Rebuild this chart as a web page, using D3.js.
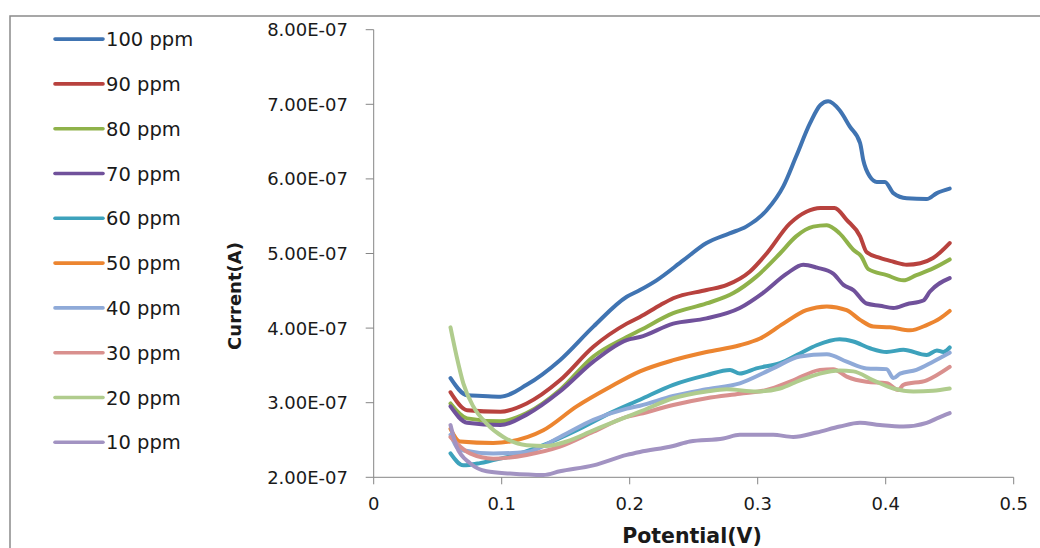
<html>
  <head>
    <script src="https://d3js.org/d3.v7.min.js"></script>
    <style>
      body{ margin: 0; background: #fff; }
      text{ font-family: "DejaVu Sans", sans-serif; fill: #1a1a1a; }
    </style>
  </head>
  <body>
    <svg width="1040" height="548"></svg>
    <script>
    // readings, current in units of 1E-07 A
    var names = ["100 ppm", "90 ppm", "80 ppm", "70 ppm", "60 ppm", "50 ppm", "40 ppm", "30 ppm", "20 ppm", "10 ppm"];
    var colors = ["#4074B2", "#B8423E", "#8FB24A", "#70519B", "#3DA2BC", "#EC8530", "#8FAAD8", "#D9908E", "#B0CC8D", "#A293C2"];
    var xTicks = [0, 0.1, 0.2, 0.3, 0.4, 0.5];
    var xTickLabels = ["0", "0.1", "0.2", "0.3", "0.4", "0.5"];
    var yTicks = [2, 3, 4, 5, 6, 7, 8];
    var yTickLabels = ["2.00E-07", "3.00E-07", "4.00E-07", "5.00E-07", "6.00E-07", "7.00E-07", "8.00E-07"];

    var s100 = [[0.06,3.33],[0.073,3.10],[0.085,3.09],[0.099,3.08],[0.1195,3.24],[0.1455,3.57],[0.1716,4.02],[0.1977,4.42],[0.208,4.51],[0.221,4.64],[0.242,4.91],[0.260,5.14],[0.278,5.27],[0.291,5.36],[0.307,5.58],[0.320,5.90],[0.330,6.30],[0.341,6.75],[0.349,6.99],[0.355,7.04],[0.364,6.92],[0.372,6.70],[0.380,6.48],[0.3825,6.25],[0.3877,6.03],[0.393,5.96],[0.3994,5.96],[0.406,5.81],[0.4164,5.74],[0.432,5.73],[0.44,5.81],[0.450,5.87]];
    var s90 = [[0.06,3.14],[0.073,2.90],[0.099,2.88],[0.1195,2.99],[0.1455,3.30],[0.1716,3.75],[0.1977,4.06],[0.208,4.15],[0.224,4.31],[0.234,4.40],[0.260,4.51],[0.276,4.58],[0.294,4.76],[0.307,5.00],[0.325,5.40],[0.338,5.56],[0.349,5.61],[0.360,5.61],[0.3695,5.45],[0.380,5.23],[0.385,5.02],[0.3955,4.94],[0.406,4.89],[0.4164,4.85],[0.427,4.87],[0.437,4.94],[0.450,5.14]];
    var s80 = [[0.06,2.99],[0.073,2.79],[0.099,2.75],[0.1195,2.86],[0.1455,3.17],[0.1716,3.62],[0.1977,3.88],[0.208,3.97],[0.234,4.20],[0.260,4.33],[0.281,4.47],[0.299,4.69],[0.3174,5.00],[0.330,5.23],[0.3434,5.36],[0.354,5.38],[0.364,5.27],[0.3747,5.05],[0.381,4.96],[0.3864,4.79],[0.4008,4.71],[0.4138,4.64],[0.424,4.71],[0.437,4.80],[0.450,4.92]];
    var s70 = [[0.06,2.95],[0.073,2.73],[0.099,2.70],[0.1195,2.84],[0.1455,3.15],[0.1716,3.55],[0.1977,3.84],[0.208,3.88],[0.234,4.06],[0.260,4.13],[0.286,4.27],[0.304,4.47],[0.3227,4.73],[0.3356,4.85],[0.3464,4.81],[0.359,4.73],[0.367,4.58],[0.3747,4.51],[0.385,4.33],[0.3955,4.30],[0.406,4.27],[0.4164,4.32],[0.4294,4.37],[0.4346,4.49],[0.450,4.67]];
    var s60 = [[0.06,2.32],[0.07,2.16],[0.083,2.19],[0.0934,2.23],[0.1065,2.28],[0.1325,2.43],[0.1586,2.63],[0.1846,2.86],[0.208,3.04],[0.234,3.24],[0.26,3.37],[0.2784,3.44],[0.286,3.39],[0.299,3.46],[0.3174,3.53],[0.333,3.66],[0.346,3.77],[0.364,3.85],[0.3747,3.82],[0.3877,3.73],[0.4008,3.68],[0.4138,3.71],[0.432,3.64],[0.440,3.70],[0.445,3.68],[0.450,3.74]];
    var s50 = [[0.06,2.65],[0.0674,2.48],[0.0934,2.46],[0.1065,2.48],[0.1325,2.63],[0.1586,2.95],[0.1846,3.21],[0.208,3.42],[0.234,3.57],[0.26,3.68],[0.286,3.77],[0.3018,3.86],[0.320,4.06],[0.338,4.24],[0.354,4.29],[0.3695,4.24],[0.380,4.11],[0.3903,4.02],[0.4034,4.01],[0.419,3.97],[0.432,4.04],[0.4424,4.13],[0.450,4.23]];
    var s40 = [[0.06,2.57],[0.0674,2.37],[0.0934,2.32],[0.1195,2.34],[0.1455,2.54],[0.1716,2.77],[0.1977,2.92],[0.208,2.96],[0.234,3.09],[0.26,3.18],[0.286,3.26],[0.312,3.46],[0.333,3.62],[0.354,3.65],[0.3695,3.55],[0.385,3.46],[0.4008,3.45],[0.406,3.33],[0.4112,3.39],[0.424,3.44],[0.437,3.55],[0.450,3.67]];
    var s30 = [[0.06,2.54],[0.0752,2.32],[0.0934,2.25],[0.1195,2.30],[0.1455,2.41],[0.1716,2.61],[0.1977,2.81],[0.208,2.85],[0.234,2.97],[0.26,3.06],[0.286,3.12],[0.307,3.17],[0.3278,3.30],[0.3487,3.44],[0.359,3.45],[0.3695,3.35],[0.385,3.28],[0.4008,3.26],[0.4099,3.17],[0.4138,3.24],[0.432,3.30],[0.450,3.48]];
    var s20 = [[0.06,4.01],[0.0648,3.62],[0.07,3.26],[0.0778,2.95],[0.0882,2.72],[0.1013,2.54],[0.1195,2.43],[0.135,2.42],[0.1508,2.48],[0.1716,2.63],[0.1977,2.81],[0.208,2.88],[0.234,3.06],[0.26,3.15],[0.2758,3.18],[0.299,3.15],[0.3174,3.19],[0.333,3.30],[0.3487,3.39],[0.364,3.43],[0.3747,3.42],[0.3903,3.30],[0.406,3.19],[0.4216,3.15],[0.437,3.16],[0.450,3.19]];
    var s10 = [[0.06,2.70],[0.0648,2.41],[0.0752,2.19],[0.0882,2.08],[0.1065,2.05],[0.1325,2.03],[0.1455,2.08],[0.1716,2.16],[0.1977,2.30],[0.208,2.34],[0.234,2.42],[0.247,2.48],[0.2731,2.52],[0.286,2.57],[0.312,2.57],[0.3278,2.54],[0.346,2.60],[0.364,2.68],[0.3799,2.73],[0.3955,2.70],[0.4138,2.68],[0.432,2.73],[0.440,2.79],[0.450,2.86]];
    var series = [s100, s90, s80, s70, s60, s50, s40, s30, s20, s10];

    var svg = d3.select("svg");
    var plotLeft = 373.7, plotRight = 1013.7, plotTop = 29.7, plotBottom = 477.3;

    var x = d3.scaleLinear().domain([0, 0.5]).range([plotLeft, plotRight]);
    var y = d3.scaleLinear().domain([2, 8]).range([plotBottom, plotTop]);

    // outer chart frame, runs past the right and bottom edges
    svg.append("rect").attr("x", 10).attr("y", 16).attr("width", 1100).attr("height", 600)
      .attr("fill", "none").attr("stroke", "#8a8a8a").attr("stroke-width", 1.5);

    // y axis
    svg.append("line").attr("x1", plotLeft).attr("x2", plotLeft).attr("y1", plotTop).attr("y2", plotBottom)
      .attr("stroke", "#868686").attr("stroke-width", 1);
    svg.selectAll(".ytick").data(yTicks).enter().append("line")
      .attr("x1", plotLeft - 8).attr("x2", plotLeft)
      .attr("y1", function(d){ return y(d); }).attr("y2", function(d){ return y(d); })
      .attr("stroke", "#868686");
    svg.selectAll(".ylab").data(yTicks).enter().append("text")
      .attr("x", 348).attr("y", function(d){ return y(d); }).attr("dy", "0.36em")
      .attr("text-anchor", "end").style("font-size", "18px")
      .text(function(d, i){ return yTickLabels[i]; });

    // x axis
    svg.append("line").attr("x1", plotLeft).attr("x2", plotRight).attr("y1", plotBottom).attr("y2", plotBottom)
      .attr("stroke", "#868686");
    svg.selectAll(".xtick").data(xTicks).enter().append("line")
      .attr("x1", function(d){ return x(d); }).attr("x2", function(d){ return x(d); })
      .attr("y1", plotBottom).attr("y2", plotBottom + 7)
      .attr("stroke", "#868686");
    svg.selectAll(".xlab").data(xTicks).enter().append("text")
      .attr("x", function(d){ return x(d); }).attr("y", 510)
      .attr("text-anchor", "middle").style("font-size", "18px")
      .text(function(d, i){ return xTickLabels[i]; });

    // axis titles
    svg.append("text").attr("x", 692).attr("y", 543).attr("text-anchor", "middle")
      .style("font-size", "20.5px").style("font-weight", "bold").text("Potential(V)");
    svg.append("text").attr("transform", "translate(241,296) rotate(-90)").attr("text-anchor", "middle")
      .style("font-size", "18px").style("font-weight", "bold").text("Current(A)");

    // curves
    var line = d3.line()
      .x(function(d){ return x(d[0]); })
      .y(function(d){ return y(d[1]); })
      .curve(d3.curveMonotoneX);
    svg.append("g").selectAll("path").data(series).enter().append("path")
      .attr("d", line)
      .attr("fill", "none")
      .attr("stroke", function(d, i){ return colors[i]; })
      .attr("stroke-width", 4)
      .attr("stroke-linejoin", "round")
      .attr("stroke-linecap", "round");

    // legend
    var leg = svg.append("g").selectAll("g").data(names).enter().append("g")
      .attr("transform", function(d, i){ return "translate(0," + (39.1 + i * 44.8) + ")"; });
    leg.append("line").attr("x1", 55).attr("x2", 103).attr("y1", 0).attr("y2", 0)
      .attr("stroke", function(d, i){ return colors[i]; })
      .attr("stroke-width", 3.6).attr("stroke-linecap", "round");
    leg.append("text").attr("x", 106).attr("y", 0).attr("dy", "0.36em")
      .style("font-size", "19.5px").text(function(d){ return d; });
    </script>
  </body>
</html>
